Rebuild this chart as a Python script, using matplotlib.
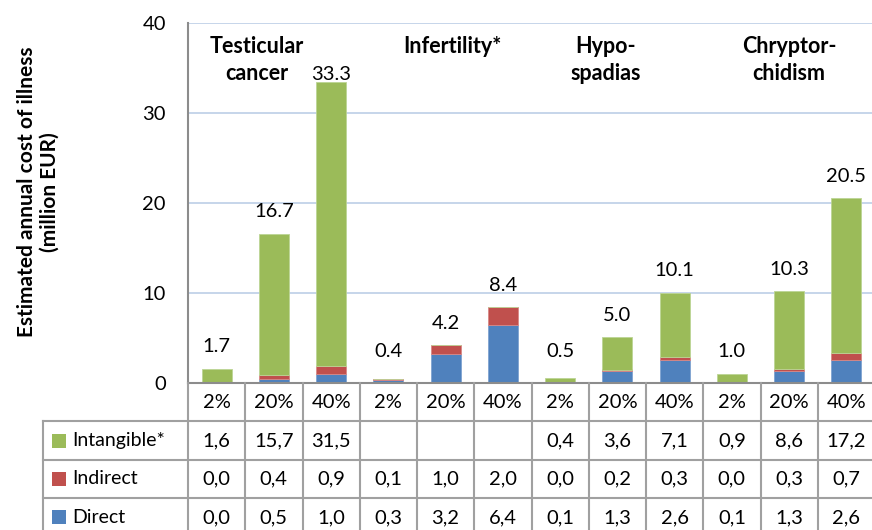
"""
Cost of illness per condition: stacked bars with an Excel-style data table below.
"""

import matplotlib.pyplot as plt
from matplotlib.patches import Rectangle
from matplotlib.transforms import blended_transform_factory

# ---------- data ----------------------------------------------------------------

conditions = ["Testicular\ncancer", "Infertility*", "Hypo-\nspadias", "Chryptor-\nchidism"]
scenarios = ["2%", "20%", "40%"] * 4

direct = [0.0, 0.5, 1.0, 0.3, 3.2, 6.4, 0.1, 1.3, 2.6, 0.1, 1.3, 2.6]
indirect = [0.0, 0.4, 0.9, 0.1, 1.0, 2.0, 0.0, 0.2, 0.3, 0.0, 0.3, 0.7]
intangible = [1.6, 15.7, 31.5, None, None, None, 0.4, 3.6, 7.1, 0.9, 8.6, 17.2]
totals = [1.7, 16.7, 33.3, 0.4, 4.2, 8.4, 0.5, 5.0, 10.1, 1.0, 10.3, 20.5]

series_names = ["Intangible*", "Indirect", "Direct"]
yticks = [0, 10, 20, 30, 40]

# ---------- style ---------------------------------------------------------------

FONT = "Lato"
GREEN = "#9bbb59"
RED = "#c0504d"
BLUE = "#4f81bd"
GRID = "#c6d5ea"
AXIS = "#8c8c8c"
TABLE = "#a0a0a0"

plt.rcParams["font.family"] = [FONT, "DejaVu Sans"]

W, H = 872, 530
fig = plt.figure(figsize=(W / 100, H / 100), dpi=100)
ax_left, ax_right, ax_top, ax_bot = 188, 875, 23, 383
ax = fig.add_axes([ax_left / W, 1 - ax_bot / H, (ax_right - ax_left) / W, (ax_bot - ax_top) / H])

n = len(scenarios)
x = list(range(n))
vals_int = [v if v is not None else 0.0 for v in intangible]
bottom_ind = direct
bottom_int = [d + i for d, i in zip(direct, indirect)]

bw = 0.52
ax.bar(x, direct, bw, color=BLUE, edgecolor="#7fa3d0", linewidth=0.6, zorder=3)
ax.bar(x, indirect, bw, bottom=bottom_ind, color=RED, edgecolor="#d88886", linewidth=0.6, zorder=3)
ax.bar(x, vals_int, bw, bottom=bottom_int, color=GREEN, edgecolor="#bcd595", linewidth=0.6, zorder=3)

ax.set_xlim(-0.5, n - 0.5)
ax.set_ylim(0, 40)
ax.set_yticks(yticks)
ax.set_yticklabels([str(t) for t in yticks], fontsize=14.5)
ax.tick_params(axis="y", length=0, pad=16)
ax.set_xticks([])
for t in yticks[1:]:
    ax.axhline(t, color=GRID, lw=1.4, zorder=1)
for s in ["top", "right", "bottom"]:
    ax.spines[s].set_visible(False)
ax.spines["left"].set_color(AXIS)
ax.spines["left"].set_linewidth(1.5)

# total labels above each stack (Excel keeps them inside the plot area)
px_per_unit = (ax_bot - ax_top) / 40
gap = 22 / px_per_unit
for xi, tot in zip(x, totals):
    stack_top = direct[xi] + indirect[xi] + vals_int[xi]
    ly = min(max(stack_top + gap, 3.45), 34.3)
    ax.text(xi, ly, f"{tot:.1f}", ha="center", va="center", fontsize=14.5, zorder=4)

# condition headings
head_x = [0.7, 4.12, 6.8, 10.0]
for hx, name in zip(head_x, conditions):
    ax.text(hx, 38.6, name, ha="center", va="top", fontsize=15.5, fontweight="bold",
            linespacing=1.4, zorder=4)

# ---------- data table ----------------------------------------------------------

tr = blended_transform_factory(ax.transData, fig.transFigure)
col_w = (ax_right - ax_left) / n
leg_left = -0.5 - (ax_left - 43) / col_w
row_h = 38.4
rows_y = [ax_bot + row_h * k for k in range(5)]   # pixel rows from the axis down


def fy(py):
    return 1 - py / H


def hline(x0, x1, py, color=TABLE):
    ax.plot([x0, x1], [fy(py), fy(py)], color=color, lw=1.5, transform=tr, clip_on=False, zorder=5)


def vline(xx, py0, py1):
    ax.plot([xx, xx], [fy(py0), fy(py1)], color=TABLE, lw=1.5, transform=tr, clip_on=False, zorder=5)


hline(-0.5, n - 0.5, ax_bot, color=AXIS)
for py in rows_y[1:]:
    hline(leg_left, n - 0.5, py)
for k in range(n + 1):
    vline(k - 0.5, ax_bot, H + 10)
vline(leg_left, rows_y[1], H + 10)

for xi, lab in zip(x, scenarios):
    ax.text(xi, fy(ax_bot + row_h / 2), lab, ha="center", va="center", fontsize=14.5,
            transform=tr, clip_on=False)

table_rows = [intangible, indirect, direct]
colors = [GREEN, RED, BLUE]
for r, (name, row, c) in enumerate(zip(series_names, table_rows, colors)):
    cy = fy(rows_y[r + 1] + row_h / 2)
    sq = 14 / col_w
    ax.add_patch(Rectangle((leg_left + 9 / col_w, cy - 7 / H), sq, 14 / H, facecolor=c,
                           edgecolor="none", transform=tr, clip_on=False))
    ax.text(leg_left + 29 / col_w, cy, name, ha="left", va="center", fontsize=14,
            transform=tr, clip_on=False)
    for xi, v in zip(x, row):
        if v is None:
            continue
        ax.text(xi, cy, f"{v:.1f}".replace(".", ","), ha="center", va="center", fontsize=14.5,
                transform=tr, clip_on=False)

fig.text(38 / W, 1 - 192 / H, "Estimated annual cost of illness\n(million EUR)", rotation=90,
         ha="center", va="center", ma="center", fontsize=15, fontweight="bold", linespacing=1.15)

fig.savefig("out.png", dpi=100)
